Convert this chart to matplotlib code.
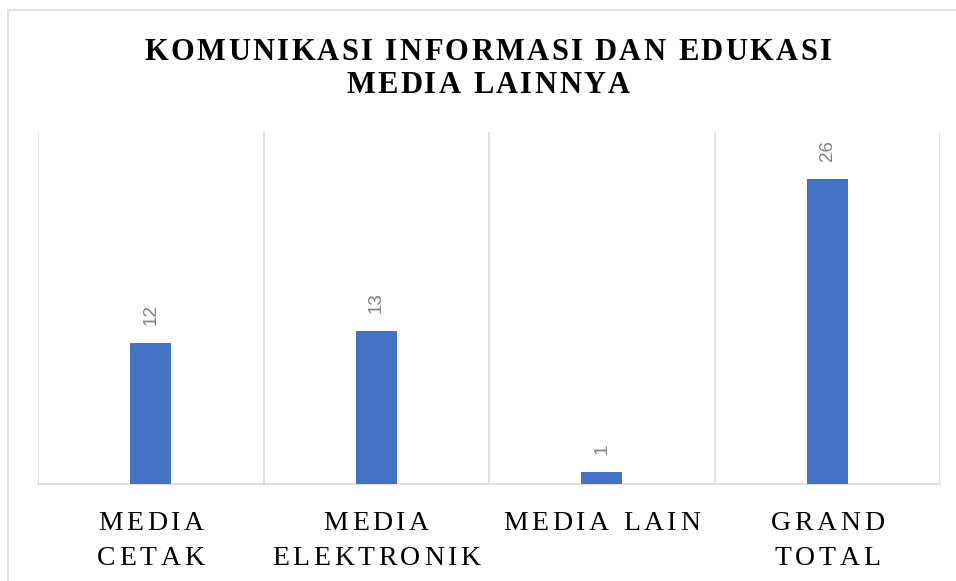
import matplotlib
matplotlib.use('Agg')
import matplotlib.pyplot as plt
from matplotlib.patches import Rectangle
from matplotlib.transforms import ScaledTranslation, blended_transform_factory
from matplotlib.font_manager import FontProperties, findfont, get_font

categories = ['MEDIA\nCETAK', 'MEDIA\nELEKTRONIK', 'MEDIA LAIN', 'GRAND\nTOTAL']
values = [12, 13, 1, 26]
title = 'KOMUNIKASI INFORMASI DAN EDUKASI\nMEDIA LAINNYA'

BLUE = '#4472C4'
GRID = '#D9D9D9'


def advances(line, fp):
    font = get_font(findfont(fp))
    font.set_size(fp.get_size_in_points(), 72)
    return [font.load_char(ord(c)).linearHoriAdvance / 65536 for c in line]


def spaced_text(fig, x, y, line, fp, spacing, transform):
    """Draw one line of text centred on x with extra letter spacing (points)."""
    adv = advances(line, fp)
    total = sum(adv) + spacing * (len(line) - 1)
    pos = -total / 2
    for c, a in zip(line, adv):
        off = ScaledTranslation(pos / 72, 0, fig.dpi_scale_trans)
        fig.text(x, y, c, fontproperties=fp, ha='left', va='baseline',
                 transform=transform + off)
        pos += a + spacing


fig = plt.figure(figsize=(9.56, 5.81), dpi=100)
fig.patches.append(Rectangle((8 / 956, -0.1), 1.2, (571 / 581) + 0.1,
                             transform=fig.transFigure, fill=False,
                             edgecolor=GRID, linewidth=1.2))

ax = fig.add_axes([38 / 956, 97 / 581, 902 / 956, 352 / 581])
x = list(range(len(values)))
ax.bar(x, values, width=0.18, color=BLUE, zorder=3)

for xi, v in zip(x, values):
    ax.annotate(str(v), (xi, v), xytext=(0, 13), textcoords='offset points',
                rotation=90, ha='center', va='bottom', color='#7F7F7F',
                fontsize=13.5, family='Liberation Sans')

ax.set_xlim(-0.5, len(values) - 0.5)
ax.set_ylim(0, 30)
for b in [i - 0.5 for i in range(len(values) + 1)]:
    ax.axvline(b, color=GRID, linewidth=1.2, zorder=1)
ax.set_yticks([])
ax.set_xticks([])
for side in ['top', 'left', 'right']:
    ax.spines[side].set_visible(False)
ax.spines['bottom'].set_color(GRID)
ax.spines['bottom'].set_linewidth(1.2)

# category labels, letter spaced, below the axis
tick_fp = FontProperties(family='Liberation Serif', size=20)
tick_tr = blended_transform_factory(ax.transData, fig.transFigure)
for xi, cat in zip(x, categories):
    for k, line in enumerate(cat.split('\n')):
        y = 1 - (530 + 35 * k) / 581
        spaced_text(fig, xi, y, line, tick_fp, 2.6, tick_tr)

# title
title_fp = FontProperties(family='Liberation Serif', size=22, weight='bold')
for k, line in enumerate(title.split('\n')):
    y = 1 - (60 + 33 * k) / 581
    spaced_text(fig, 0.5 + 10 / 956, y, line, title_fp, 1.7, fig.transFigure)

fig.savefig('out.png', dpi=100)
